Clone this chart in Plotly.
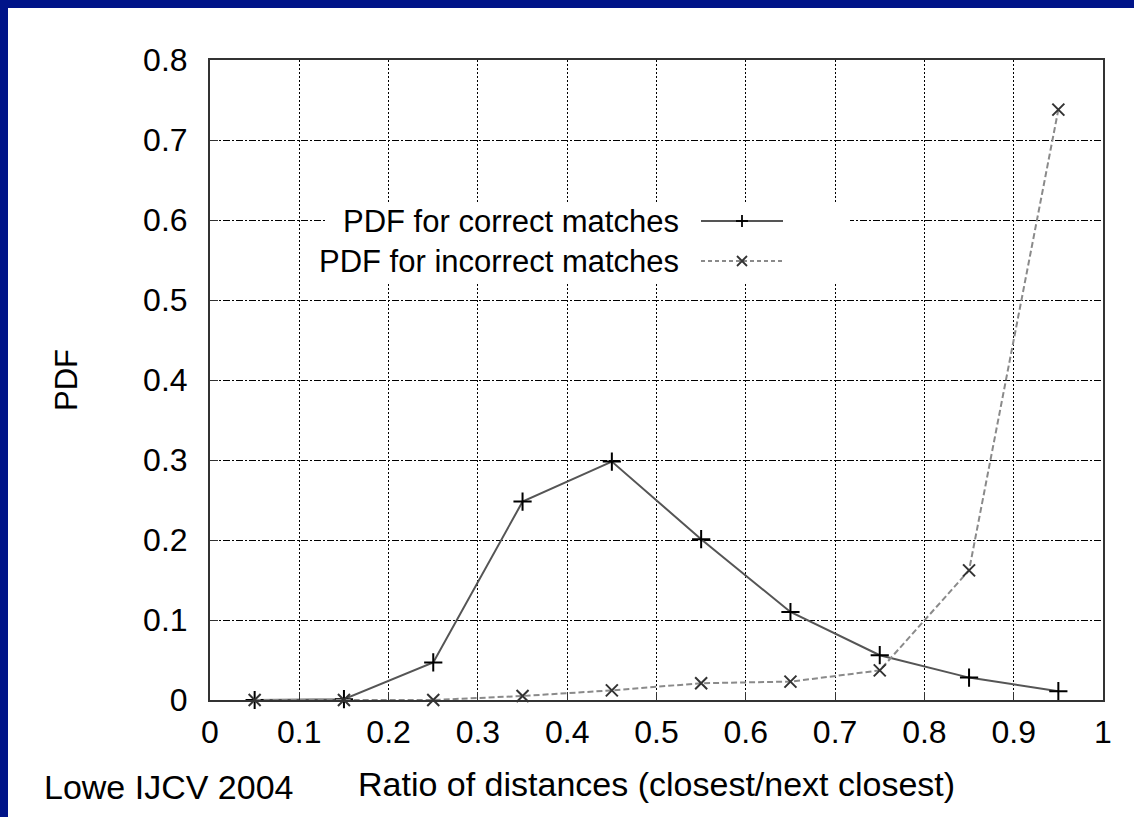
import plotly.graph_objects as go

# ---- data ----
ratio = [0.05, 0.15, 0.25, 0.35, 0.45, 0.55, 0.65, 0.75, 0.85, 0.95]
pdf_correct = [0.0, 0.001, 0.047, 0.248, 0.298, 0.201, 0.110, 0.056, 0.028, 0.011]
pdf_incorrect = [0.0, 0.0, 0.0, 0.005, 0.012, 0.021, 0.023, 0.037, 0.162, 0.738]
x_ticks = [0, 0.1, 0.2, 0.3, 0.4, 0.5, 0.6, 0.7, 0.8, 0.9, 1]
x_tick_text = ["0", "0.1", "0.2", "0.3", "0.4", "0.5", "0.6", "0.7", "0.8", "0.9", "1"]
y_ticks = [0, 0.1, 0.2, 0.3, 0.4, 0.5, 0.6, 0.7, 0.8]
y_tick_text = ["0", "0.1", "0.2", "0.3", "0.4", "0.5", "0.6", "0.7", "0.8"]
series_names = ["PDF for correct matches", "PDF for incorrect matches"]
x_title = "Ratio of distances (closest/next closest)"
y_title = "PDF"
credit = "Lowe IJCV 2004"

# ---- layout geometry (pixels) ----
W, H = 1134, 817
L, R, T, B = 210, 31, 60, 117
PW, PH = W - L - R, H - T - B
NAVY = "#001489"
FONT = "Liberation Sans, Arial, sans-serif"


def px(xp):
    return (xp - L) / PW


def py(yp):
    return (H - B - yp) / PH


fig = go.Figure()

fig.add_trace(go.Scatter(
    x=ratio, y=pdf_correct, mode="lines+markers", name=series_names[0],
    line=dict(color="#555555", width=2),
    marker=dict(symbol="cross-thin", size=13, line=dict(color="black", width=2)),
    showlegend=False, cliponaxis=False))
fig.add_trace(go.Scatter(
    x=ratio, y=pdf_incorrect, mode="lines+markers", name=series_names[1],
    line=dict(color="#8a8a8a", width=2, dash="6px,3px"),
    marker=dict(symbol="x-thin", size=12, line=dict(color="#333333", width=2)),
    showlegend=False, cliponaxis=False))

shapes = []
# navy slide borders
shapes.append(dict(type="rect", xref="paper", yref="paper", x0=px(-5), x1=px(8), y0=py(H + 5), y1=py(-5),
                   fillcolor=NAVY, line=dict(width=0), layer="above"))
shapes.append(dict(type="rect", xref="paper", yref="paper", x0=px(-5), x1=px(W + 5), y0=py(8), y1=py(-5),
                   fillcolor=NAVY, line=dict(width=0), layer="above"))

# legend box (white, hides grid)
shapes.append(dict(type="rect", xref="paper", yref="paper", x0=px(327), x1=px(850), y0=py(283), y1=py(202),
                   fillcolor="white", line=dict(width=0), layer="above"))
row_y = [221, 261]
sample_x0, sample_x1, sample_xm = 701, 783, 742
styles = [("#555555", "solid"), ("#8a8a8a", "4px,3px")]
for i in range(2):
    c, d = styles[i]
    shapes.append(dict(type="line", xref="paper", yref="paper", x0=px(sample_x0), x1=px(sample_x1),
                       y0=py(row_y[i]), y1=py(row_y[i]), line=dict(color=c, width=2, dash=d), layer="above"))
# legend marker glyphs
s = 6
shapes.append(dict(type="line", xref="paper", yref="paper", x0=px(sample_xm - s), x1=px(sample_xm + s),
                   y0=py(row_y[0]), y1=py(row_y[0]), line=dict(color="black", width=1.8), layer="above"))
shapes.append(dict(type="line", xref="paper", yref="paper", x0=px(sample_xm), x1=px(sample_xm),
                   y0=py(row_y[0] - s), y1=py(row_y[0] + s), line=dict(color="black", width=1.8), layer="above"))
s2 = 5
shapes.append(dict(type="line", xref="paper", yref="paper", x0=px(sample_xm - s2), x1=px(sample_xm + s2),
                   y0=py(row_y[1] - s2), y1=py(row_y[1] + s2), line=dict(color="#333333", width=1.8), layer="above"))
shapes.append(dict(type="line", xref="paper", yref="paper", x0=px(sample_xm - s2), x1=px(sample_xm + s2),
                   y0=py(row_y[1] + s2), y1=py(row_y[1] - s2), line=dict(color="#333333", width=1.8), layer="above"))

annotations = []
for i in range(2):
    annotations.append(dict(text=series_names[i], xref="paper", yref="paper", x=px(681), y=py(row_y[i]),
                            xanchor="right", yanchor="middle", showarrow=False,
                            font=dict(family=FONT, size=31, color="black")))
annotations.append(dict(text=x_title, xref="paper", yref="paper", x=px(656), y=py(784),
                        xanchor="center", yanchor="middle", showarrow=False,
                        font=dict(family=FONT, size=34, color="black")))
annotations.append(dict(text=y_title, xref="paper", yref="paper", x=px(66), y=py(380),
                        xanchor="center", yanchor="middle", showarrow=False, textangle=-90,
                        font=dict(family=FONT, size=31, color="black")))
annotations.append(dict(text=credit, xref="paper", yref="paper", x=px(42), y=py(787),
                        xanchor="left", yanchor="middle", showarrow=False,
                        font=dict(family=FONT, size=34, color="black")))

fig.update_layout(
    width=W, height=H, autosize=False,
    margin=dict(l=L, r=R, t=T, b=B),
    paper_bgcolor="white", plot_bgcolor="white",
    shapes=shapes, annotations=annotations,
    font=dict(family=FONT, color="black"),
)
fig.update_xaxes(range=[0, 1], tickvals=x_ticks, ticktext=x_tick_text,
                 tickfont=dict(family=FONT, size=32, color="black"),
                 showgrid=True, gridcolor="black", gridwidth=1, griddash="2px,2px",
                 zeroline=False, showline=True, mirror=True, linecolor="#333333", linewidth=2,
                 ticks="inside", ticklen=8, tickcolor="#333333", ticklabelstandoff=3)
fig.update_yaxes(range=[0, 0.8], tickvals=y_ticks, ticktext=y_tick_text,
                 tickfont=dict(family=FONT, size=32, color="black"),
                 showgrid=True, gridcolor="black", gridwidth=1, griddash="7px,2px,2px,2px",
                 zeroline=False, showline=True, mirror=True, linecolor="#333333", linewidth=2,
                 ticks="inside", ticklen=8, tickcolor="#333333", ticklabelstandoff=14)

fig.write_html("out.html", config={"displayModeBar": False},
               post_script="document.body.style.margin='0';document.body.style.overflow='hidden';")
